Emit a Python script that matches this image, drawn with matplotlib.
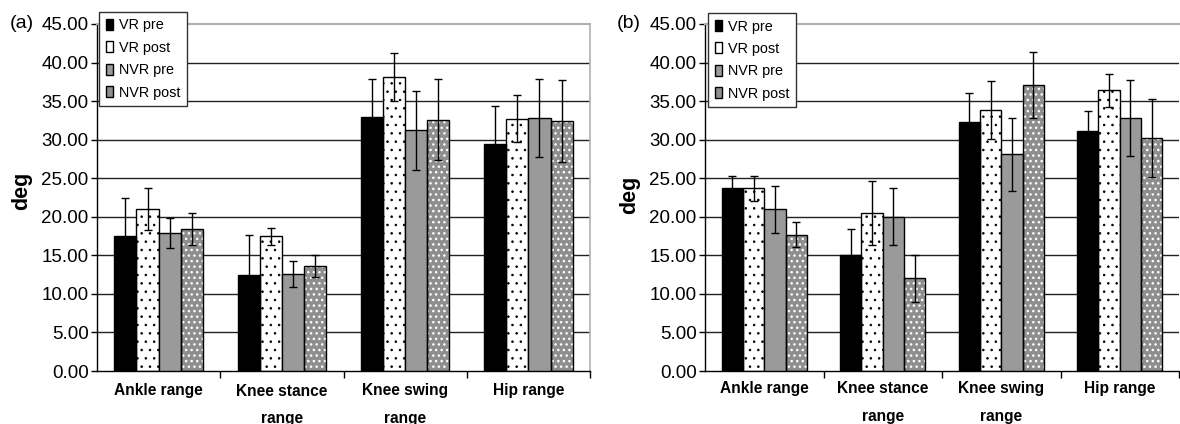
import matplotlib
matplotlib.use("Agg")
import matplotlib.pyplot as plt
from matplotlib.patches import Patch
from matplotlib.ticker import FormatStrFormatter, FixedLocator
import numpy as np

plt.rcParams['font.family'] = ['Liberation Sans', 'DejaVu Sans']
plt.rcParams['hatch.linewidth'] = 0.6

categories = ["Ankle range", "Knee stance\nrange", "Knee swing\nrange", "Hip range"]
series = ["VR pre", "VR post", "NVR pre", "NVR post"]

# Panel (a)
a_vals = {
    "VR pre":   [17.5, 12.5, 32.9, 29.4],
    "VR post":  [21.0, 17.5, 38.1, 32.7],
    "NVR pre":  [17.9, 12.6, 31.2, 32.8],
    "NVR post": [18.4, 13.6, 32.6, 32.4],
}
a_errs = {
    "VR pre":   [4.9, 5.1, 5.0, 5.0],
    "VR post":  [2.7, 1.1, 3.1, 3.05],
    "NVR pre":  [2.0, 1.65, 5.1, 5.05],
    "NVR post": [2.1, 1.4, 5.3, 5.3],
}
# Panel (b)
b_vals = {
    "VR pre":   [23.7, 15.0, 32.3, 31.1],
    "VR post":  [23.7, 20.5, 33.9, 36.4],
    "NVR pre":  [21.0, 20.0, 28.1, 32.8],
    "NVR post": [17.7, 12.0, 37.1, 30.2],
}
b_errs = {
    "VR pre":   [1.6, 3.4, 3.7, 2.6],
    "VR post":  [1.6, 4.2, 3.75, 2.15],
    "NVR pre":  [3.05, 3.7, 4.75, 4.9],
    "NVR post": [1.65, 3.0, 4.25, 5.05],
}

styles = {
    "VR pre":   dict(face="black", hatch=None, hcolor=None),
    "VR post":  dict(face="white", hatch="..", hcolor="black"),
    "NVR pre":  dict(face="#9a9a9a", hatch=None, hcolor=None),
    "NVR post": dict(face="#8e8e8e", hatch="...", hcolor="white"),
}

fig = plt.figure(figsize=(11.8, 4.24), dpi=100)
ax_a = fig.add_axes([97/1180, 53/424, (590-97)/1180, (371-24)/424])
ax_b = fig.add_axes([705/1180, 53/424, (1179-705)/1180, (371-24)/424])

W = 0.18


def draw(ax, vals, errs, label, label_x, leg_xy, deg_xy, xpad, right_spine_visible=True):
    x = np.arange(len(categories))
    for gl in range(5, 45, 5):
        ax.axhline(gl, color="#222222", lw=1.0, zorder=1)
    for i, s in enumerate(series):
        st = styles[s]
        pos = x + (i - 1.5) * W
        if st["hatch"]:
            bars = ax.bar(pos, vals[s], W, color=st["face"], edgecolor=st["hcolor"],
                          hatch=st["hatch"], linewidth=0, zorder=2)
            if st["hcolor"] == "white":
                for b in bars:
                    if hasattr(b, "set_hatch_linewidth"):
                        b.set_hatch_linewidth(1.0)
            ax.bar(pos, vals[s], W, fill=False, edgecolor="black", linewidth=1.0, zorder=3)
        else:
            ax.bar(pos, vals[s], W, color=st["face"], edgecolor="black", linewidth=1.0, zorder=3)
        ax.errorbar(pos, vals[s], yerr=errs[s], fmt="none", ecolor="black",
                    elinewidth=1.0, capsize=3, capthick=1.0, zorder=4)
    ax.set_xlim(-0.5, 3.5)
    ax.set_ylim(0, 45)
    ax.set_yticks(np.arange(0, 46, 5))
    ax.yaxis.set_major_formatter(FormatStrFormatter("%.2f"))
    ax.tick_params(axis="y", labelsize=13.5, length=4, width=1, pad=2, direction="out")
    ax.xaxis.set_major_locator(FixedLocator([0.5, 1.5, 2.5, 3.5]))
    ax.xaxis.set_minor_locator(FixedLocator(list(x)))
    ax.set_xticklabels([], minor=False)
    ax.set_xticklabels(categories, minor=True, fontweight="bold", fontsize=11.2,
                       linespacing=2.05, va="top")
    ax.tick_params(axis="x", which="major", length=5, width=1, direction="out")
    ax.tick_params(axis="x", which="minor", length=0, pad=xpad)
    ax.spines["top"].set_color("#b0b0b0")
    ax.spines["top"].set_linewidth(1.5)
    ax.spines["right"].set_color("#b0b0b0")
    ax.spines["right"].set_linewidth(1.2)
    ax.spines["right"].set_visible(right_spine_visible)
    ax.spines["left"].set_linewidth(1.0)
    ax.spines["bottom"].set_linewidth(1.0)
    fig.text(deg_xy[0] / 1180, 1 - deg_xy[1] / 424, "deg", fontsize=15.5,
             fontweight="bold", rotation=90, ha="center", va="center")

    handles = [
        Patch(facecolor="black", edgecolor="black", label="VR pre"),
        Patch(facecolor="white", edgecolor="black", label="VR post"),
        Patch(facecolor="#9a9a9a", edgecolor="black", label="NVR pre"),
        Patch(facecolor="#8e8e8e", edgecolor="black", label="NVR post"),
    ]
    leg = ax.legend(handles=handles, loc="upper left",
                    bbox_to_anchor=leg_xy, bbox_transform=fig.transFigure,
                    borderaxespad=0, fontsize=10.4, handlelength=0.5, handleheight=0.8,
                    handletextpad=0.45, labelspacing=0.58, borderpad=0.45,
                    fancybox=False, framealpha=1, edgecolor="#333333")
    leg.get_frame().set_linewidth(1.0)
    leg.set_zorder(10)
    fig.text(label_x / 1180, 1 - 24 / 424, label, fontsize=14, ha="left", va="center")


draw(ax_a, a_vals, a_errs, "(a)", 10, (99/1180, 1 - 12/424), (22, 191), 9, True)
draw(ax_b, b_vals, b_errs, "(b)", 617, (708/1180, 1 - 13/424), (630, 195), 7.5, False)

fig.savefig("out.png", dpi=100)
